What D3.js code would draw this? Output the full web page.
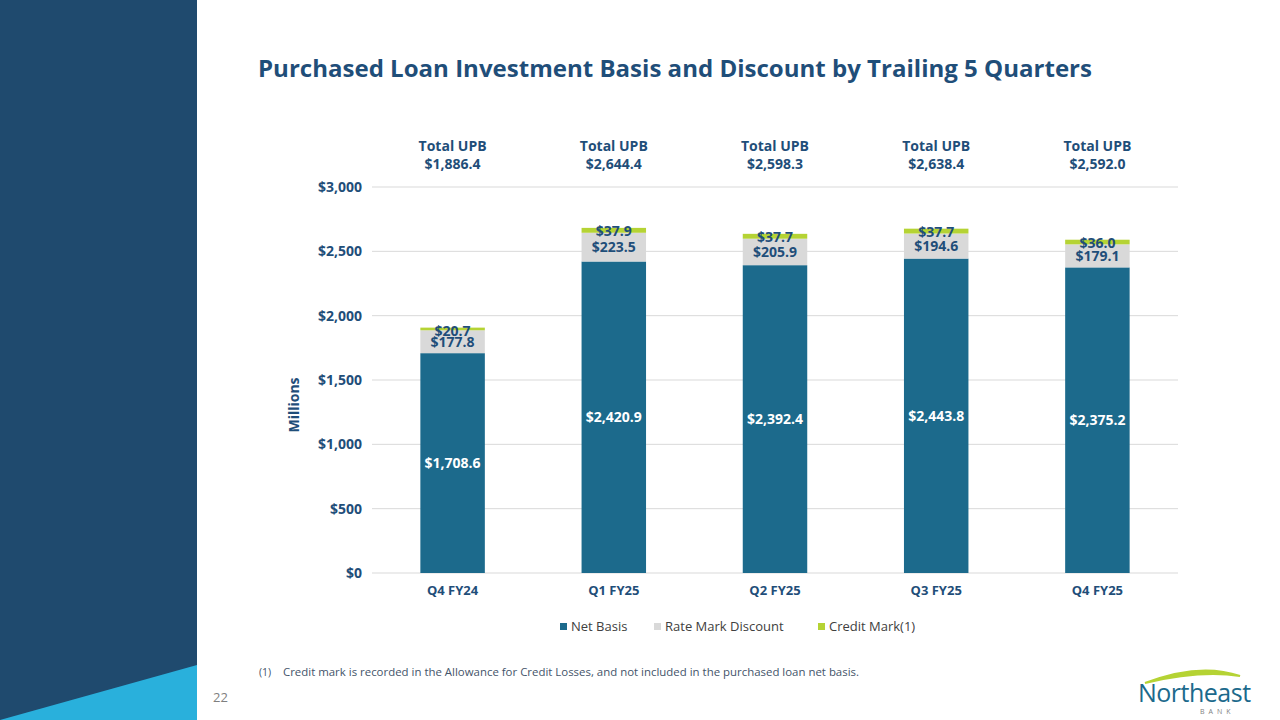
<!DOCTYPE html>
<html><head><meta charset="utf-8">
<script src="https://cdn.jsdelivr.net/npm/d3@7"></script>
<style>body{margin:0;background:#fff}svg{display:block;font-family:"Open Sans",sans-serif}</style>
</head><body>
<svg id="c" width="1280" height="720"></svg>
<script>
var quarters = ["Q4 FY24", "Q1 FY25", "Q2 FY25", "Q3 FY25", "Q4 FY25"];
var netBasis = [1708.6, 2420.9, 2392.4, 2443.8, 2375.2];
var rateMark = [177.8, 223.5, 205.9, 194.6, 179.1];
var creditMark = [20.7, 37.9, 37.7, 37.7, 36.0];
var totalUpb = ["$1,886.4", "$2,644.4", "$2,598.3", "$2,638.4", "$2,592.0"];
var yTicks = [0, 500, 1000, 1500, 2000, 2500, 3000];

var svg = d3.select("#c");
var navy = "#1f4a6e", textBlue = "#1f4e79";

// side panel
svg.append("rect").attr("x", 0).attr("y", 0).attr("width", 197).attr("height", 720).attr("fill", navy);
svg.append("path").attr("d", "M0,720 L197,665 L197,720 Z").attr("fill", "#29b0dc");

svg.append("text").attr("x", 258).attr("y", 77).attr("font-size", 24).attr("font-weight", 700)
  .attr("textLength", 834).attr("lengthAdjust", "spacingAndGlyphs")
  .attr("fill", textBlue).text("Purchased Loan Investment Basis and Discount by Trailing 5 Quarters");

var x = d3.scaleBand().domain(quarters).range([372, 1178]).paddingInner(0.6).paddingOuter(0.3);
var y = d3.scaleLinear().domain([0, 3000]).range([573, 187]);

svg.append("g").selectAll("line").data(yTicks).join("line")
  .attr("x1", 372).attr("x2", 1178).attr("y1", d => y(d)).attr("y2", d => y(d))
  .attr("stroke", "#d9d9d9").attr("stroke-width", 1);

svg.append("g").selectAll("text").data(yTicks).join("text")
  .attr("x", 362).attr("y", d => y(d) + 5).attr("text-anchor", "end")
  .attr("font-size", 14).attr("font-weight", 700).attr("fill", textBlue)
  .text(d => "$" + d3.format(",")(d));

svg.append("text").attr("transform", "translate(299,405) rotate(-90)").attr("text-anchor", "middle")
  .attr("font-size", 14).attr("font-weight", 700).attr("fill", textBlue).text("Millions");

var rows = quarters.map((q, i) => ({q: q, i: i, n: netBasis[i], r: rateMark[i], c: creditMark[i]}));
var bw = x.bandwidth();

var g = svg.append("g");
g.selectAll(".net").data(rows).join("rect").attr("class", "net")
  .attr("x", d => x(d.q)).attr("width", bw)
  .attr("y", d => y(d.n)).attr("height", d => y(0) - y(d.n)).attr("fill", "#1c6a8c");
g.selectAll(".rate").data(rows).join("rect").attr("class", "rate")
  .attr("x", d => x(d.q)).attr("width", bw)
  .attr("y", d => y(d.n + d.r)).attr("height", d => y(d.n) - y(d.n + d.r)).attr("fill", "#d9d9d9");
g.selectAll(".credit").data(rows).join("rect").attr("class", "credit")
  .attr("x", d => x(d.q)).attr("width", bw)
  .attr("y", d => y(d.n + d.r + d.c)).attr("height", d => y(d.n + d.r) - y(d.n + d.r + d.c)).attr("fill", "#b5d334");

var fmt = d3.format(",.1f");
g.selectAll(".ln").data(rows).join("text")
  .attr("x", d => x(d.q) + bw / 2).attr("y", d => y(d.n / 2) + 5).attr("text-anchor", "middle")
  .attr("font-size", 14).attr("font-weight", 700).attr("fill", "#fff").text(d => "$" + fmt(d.n));
g.selectAll(".lr").data(rows).join("text")
  .attr("x", d => x(d.q) + bw / 2).attr("y", d => y(d.n + d.r / 2) + 5).attr("text-anchor", "middle")
  .attr("font-size", 14).attr("font-weight", 700).attr("fill", textBlue).text(d => "$" + fmt(d.r));
g.selectAll(".lc").data(rows).join("text")
  .attr("x", d => x(d.q) + bw / 2).attr("y", d => y(d.n + d.r + d.c) + 8).attr("text-anchor", "middle")
  .attr("font-size", 14).attr("font-weight", 700).attr("fill", textBlue).text(d => "$" + fmt(d.c));

g.selectAll(".xl").data(quarters).join("text")
  .attr("x", d => x(d) + bw / 2).attr("y", 595).attr("text-anchor", "middle")
  .attr("font-size", 13).attr("font-weight", 700).attr("fill", textBlue).text(d => d);

var upb = svg.append("g").selectAll("text").data(quarters).join("text")
  .attr("x", d => x(d) + bw / 2).attr("text-anchor", "middle")
  .attr("font-size", 14).attr("font-weight", 700).attr("fill", textBlue);
upb.append("tspan").attr("y", 151).attr("x", d => x(d) + bw / 2).text("Total UPB");
upb.append("tspan").attr("y", 169).attr("x", d => x(d) + bw / 2).text((d, i) => totalUpb[i]);

// legend
var legend = [["Net Basis", "#1c6a8c", 560], ["Rate Mark Discount", "#d9d9d9", 654], ["Credit Mark(1)", "#b5d334", 818]];
legend.forEach(l => {
  svg.append("rect").attr("x", l[2]).attr("y", 623).attr("width", 7).attr("height", 7).attr("fill", l[1]);
  svg.append("text").attr("x", l[2] + 11).attr("y", 631).attr("font-size", 13).attr("fill", "#404040").text(l[0]);
});

svg.append("text").attr("x", 259).attr("y", 676).attr("font-size", 10.5).attr("fill", "#44546a").text("(1)");
svg.append("text").attr("x", 283).attr("y", 676).attr("font-size", 10.5).attr("fill", "#44546a")
  .attr("textLength", 576).attr("lengthAdjust", "spacingAndGlyphs")
  .text("Credit mark is recorded in the Allowance for Credit Losses, and not included in the purchased loan net basis.");
svg.append("text").attr("x", 213).attr("y", 702).attr("font-size", 13).attr("fill", "#7f7f7f").text("22");

// logo
svg.append("path").attr("d", "M1145,683 Q1200,662 1240,676 Q1200,670 1145,683 Z").attr("fill", "#b5d334")
  .attr("stroke", "#b5d334").attr("stroke-width", 2);
svg.append("text").attr("x", 1138).attr("y", 702).attr("font-size", 25).attr("fill", "#1c6a8c").attr("letter-spacing", -0.5).text("Northeast");
svg.append("text").attr("x", 1200).attr("y", 714).attr("font-size", 7).attr("fill", "#7f7f7f").attr("letter-spacing", 4).text("BANK");
</script>
</body></html>
